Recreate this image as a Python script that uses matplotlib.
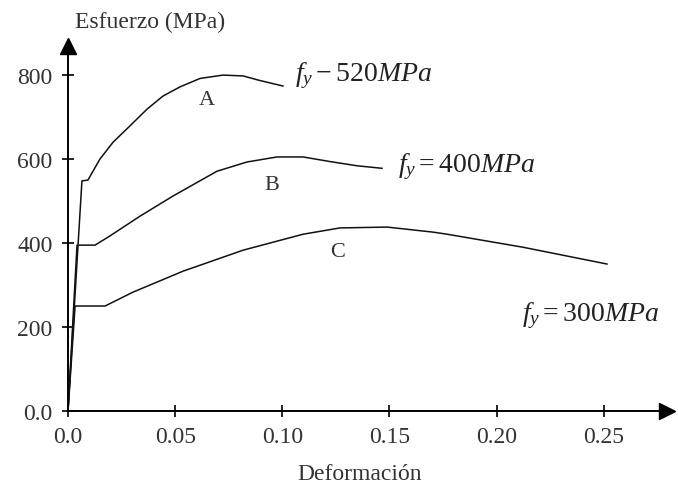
import matplotlib
matplotlib.use("Agg")
import matplotlib.pyplot as plt

plt.rcParams['font.family'] = ['Liberation Serif', 'DejaVu Serif']
plt.rcParams['mathtext.fontset'] = 'custom'
plt.rcParams['mathtext.rm'] = 'Liberation Serif'
plt.rcParams['mathtext.it'] = 'Liberation Serif:italic'

# curve A (fy = 520 MPa)
a_x = [0.0, 0.0065, 0.0093, 0.0149, 0.0210, 0.0289, 0.0369, 0.0443, 0.0523,
       0.0616, 0.0723, 0.0817, 0.0896, 0.1003]
a_y = [0, 548, 550, 600, 640, 679, 719, 750, 772, 792, 800, 798, 787, 774]
# curve B (fy = 400 MPa)
b_x = [0.0, 0.0042, 0.0126, 0.0196, 0.0336, 0.0490, 0.0695, 0.0835, 0.0975,
       0.1097, 0.1223, 0.1349, 0.1465]
b_y = [0, 395, 395, 417, 464, 512, 571, 593, 605, 605, 594, 584, 578]
# curve C (fy = 300 MPa)
c_x = [0.0, 0.0033, 0.0173, 0.0303, 0.0537, 0.0817, 0.1097, 0.1269, 0.1489,
       0.1703, 0.1769, 0.2123, 0.2515]
c_y = [0, 250, 250, 283, 333, 383, 421, 436, 438, 426, 421, 390, 350]

xticks = [0.0, 0.05, 0.10, 0.15, 0.20, 0.25]
xtick_labels = ['0.0', '0.05', '0.10', '0.15', '0.20', '0.25']
yticks = [0, 200, 400, 600, 800]
ytick_labels = ['0.0', '200', '400', '600', '800']

fig = plt.figure(figsize=(6.78, 4.89), dpi=100)
ax = fig.add_axes([0.1003, 0.1575, 0.8835, 0.747])
ax.set_xlim(0, 0.2795)
ax.set_ylim(0, 870)

for xs, ys in [(a_x, a_y), (b_x, b_y), (c_x, c_y)]:
    ax.plot(xs, ys, color='#111111', lw=1.1, clip_on=False,
            solid_joinstyle='round')

ax.spines['top'].set_visible(False)
ax.spines['right'].set_visible(False)
ax.spines['left'].set_linewidth(1.4)
ax.spines['bottom'].set_linewidth(1.4)
ax.plot(1, 0, '>', color='black', ms=11, transform=ax.get_yaxis_transform(), clip_on=False)
ax.plot(0, 1, '^', color='black', ms=11, transform=ax.get_xaxis_transform(), clip_on=False)

ax.set_xticks(xticks)
ax.set_xticklabels(xtick_labels)
ax.set_yticks(yticks)
ax.set_yticklabels(ytick_labels)
ax.tick_params(direction='inout', length=8, width=1.2, labelsize=17,
               labelcolor='#333333')
ax.tick_params(axis='x', pad=7)
ax.tick_params(axis='y', pad=7)

ax.text(0.065, 743, 'A', fontsize=16, color='#333333', ha='center', va='center')
ax.text(0.095, 540, 'B', fontsize=16, color='#333333', ha='center', va='center')
ax.text(0.126, 379, 'C', fontsize=16, color='#333333', ha='center', va='center')

ax.text(0.106, 800, r'$f_y - 520MPa$', fontsize=20, color='#222222', va='center')
ax.text(0.154, 585, r'$f_y = 400MPa$', fontsize=20, color='#222222', va='center')
ax.text(0.212, 229, r'$f_y = 300MPa$', fontsize=20, color='#222222', va='center')

fig.text(75 / 678, 1 - 22 / 489, 'Esfuerzo (MPa)', fontsize=17, color='#333333',
         ha='left', va='center')
fig.text(360 / 678, 1 - 475 / 489, 'Deformación', fontsize=17, color='#333333',
         ha='center', va='center')

fig.savefig('out.png', dpi=100)
